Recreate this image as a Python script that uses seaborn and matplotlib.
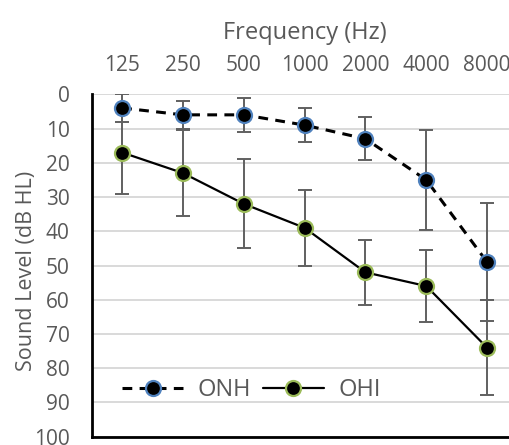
import pandas as pd
import seaborn as sns
import matplotlib.pyplot as plt
from matplotlib.lines import Line2D

# Audiogram values
freqs = ['125', '250', '500', '1000', '2000', '4000', '8000']
onh_mean = [4, 6, 6, 9, 13, 25, 49]
onh_err = [4, 4, 5, 5, 6.3, 14.5, 17.3]
ohi_mean = [17, 23, 32, 39, 52, 56, 74]
ohi_err = [12, 12.5, 13, 11, 9.5, 10.5, 13.9]
y_ticks = [0, 10, 20, 30, 40, 50, 60, 70, 80, 90, 100]

text_gray = '#595959'
edge_colors = {'ONH': '#4F81BD', 'OHI': '#9BBB59'}

df = pd.concat([
    pd.DataFrame({'Frequency': freqs, 'Level': onh_mean, 'Err': onh_err, 'Group': 'ONH'}),
    pd.DataFrame({'Frequency': freqs, 'Level': ohi_mean, 'Err': ohi_err, 'Group': 'OHI'}),
], ignore_index=True)
df['pos'] = df['Frequency'].map({f: i for i, f in enumerate(freqs)})

sns.set_style('white')
plt.rcParams['font.family'] = ['Open Sans', 'DejaVu Sans']

fig = plt.figure(figsize=(5.1, 4.45), dpi=100)
# plot area runs past the right edge, as in the cropped reference
ax = fig.add_axes([91.7 / 510, 1 - 436.7 / 445, 425.8 / 510, (436.7 - 94.3) / 445])

# error bars first, underneath the lines
for grp in ['ONH', 'OHI']:
    sub = df[df['Group'] == grp]
    ax.errorbar(sub['pos'], sub['Level'], yerr=sub['Err'], fmt='none',
                ecolor='#606060', elinewidth=1.4, capsize=5, capthick=1.4, zorder=2)

styles = {'ONH': (0, (3.2, 2.4)), 'OHI': '-'}
widths = {'ONH': 2.2, 'OHI': 1.6}
for grp in ['ONH', 'OHI']:
    sub = df[df['Group'] == grp]
    sns.lineplot(data=sub, x='pos', y='Level', ax=ax, color='black',
                 linestyle=styles[grp], linewidth=widths[grp], marker='o',
                 markersize=10.8, markerfacecolor='black',
                 markeredgecolor=edge_colors[grp], markeredgewidth=1.6,
                 zorder=3, legend=False)

ax.set_xlim(-0.5, len(freqs) - 0.5)
ax.set_ylim(100, 0)
ax.set_yticks(y_ticks)
ax.set_xticks(range(len(freqs)))
ax.set_xticklabels(freqs)
ax.xaxis.tick_top()
ax.xaxis.set_label_position('top')
ax.tick_params(axis='both', length=0, labelsize=15, colors=text_gray)
ax.tick_params(axis='x', pad=13.5)
ax.tick_params(axis='y', pad=16)
ax.set_xlabel('Frequency (Hz)', fontsize=17, color=text_gray, labelpad=11.5)
ax.set_ylabel('Sound Level (dB HL)', fontsize=15.5, color=text_gray)
ax.yaxis.set_label_coords(-0.128, 0.484)

ax.grid(axis='y', color='#D9D9D9', linewidth=1.4)
ax.set_axisbelow(True)
ax.spines['top'].set_visible(False)
ax.spines['right'].set_visible(False)
for s in ['left', 'bottom']:
    ax.spines[s].set_color('black')
    ax.spines[s].set_linewidth(2)

handles = [
    Line2D([], [], color='black', linestyle=styles[g], linewidth=widths[g], marker='o',
           markersize=10.8, markerfacecolor='black', markeredgecolor=edge_colors[g],
           markeredgewidth=1.6)
    for g in ['ONH', 'OHI']
]
leg = ax.legend(handles, ['ONH', 'OHI'], ncol=2, frameon=False, fontsize=17,
                loc='center left', bbox_to_anchor=(0.071, 0.137),
                borderpad=0, borderaxespad=0,
                handlelength=2.6, handletextpad=0.6, columnspacing=0.5)
for t in leg.get_texts():
    t.set_color(text_gray)

fig.savefig('out.png', dpi=100)
